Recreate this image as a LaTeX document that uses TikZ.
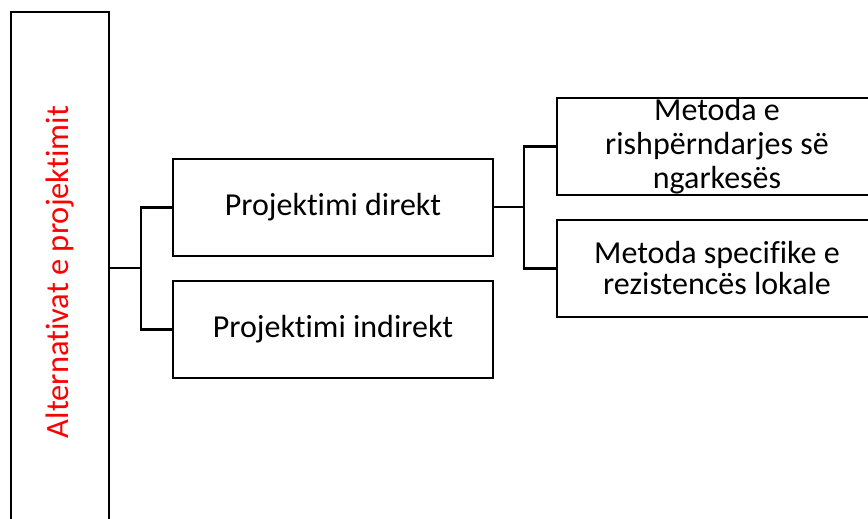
\documentclass[tikz,border=0pt]{standalone}
\usepackage{fontspec}
\setmainfont{Carlito}[Ligatures=NoCommon, RawFeature={-liga;-clig;-calt;-rlig;-dlig}]
\usetikzlibrary{positioning}

\tikzset{
  box/.style={draw=black, line width=2.6pt, fill=white, inner sep=0pt, outer sep=0pt,
    minimum width=320pt, minimum height=97pt, align=center,
    font=\fontsize{32}{34}\selectfont},
  rootbox/.style={draw=black, line width=2.6pt, fill=white, inner sep=0pt, outer sep=0pt,
    minimum width=98pt, minimum height=520pt,
    font=\fontsize{32.5}{36}\selectfont},
  link/.style={draw=black, line width=2.6pt}
}

\begin{document}
\begin{tikzpicture}[x=1pt, y=-1pt]
  \path[use as bounding box, clip] (0,0) rectangle (868,519);

  % vertical title box on the left
  \node[rootbox] (root) at (60,272)
    {\rotatebox{90}{\textcolor{red}{Alternativat e projektimit}}};

  % second level
  \node[box] (direct)   at (333,207.5) {Projektimi direkt};
  \node[box] (indirect) at (333,329.5) {Projektimi indirekt};

  % third level; fixed text height/depth keep the box at 97pt and let
  % the last line hang slightly over the bottom edge
  \node[box, font=\fontsize{32}{34}\selectfont,
        text height=90pt, text depth=7pt] (redist) at (717,146.5)
    {Metoda e\\rishpërndarjes së\\ngarkesës};
  \node[box, font=\fontsize{32}{31}\selectfont] (local) at (717,268.5)
    {Metoda specifike e\\rezistencës lokale};

  % fork points of the bracket connectors
  \coordinate (forkA) at (141,268);
  \coordinate (forkB) at (524,207);

  \draw[link] (root.east |- forkA) -- (forkA);
  \draw[link] (direct.west) -| (forkA) |- (indirect.west);

  \draw[link] (direct.east |- forkB) -- (forkB);
  \draw[link] (redist.west) -| (forkB) |- (local.west);
\end{tikzpicture}
\end{document}
